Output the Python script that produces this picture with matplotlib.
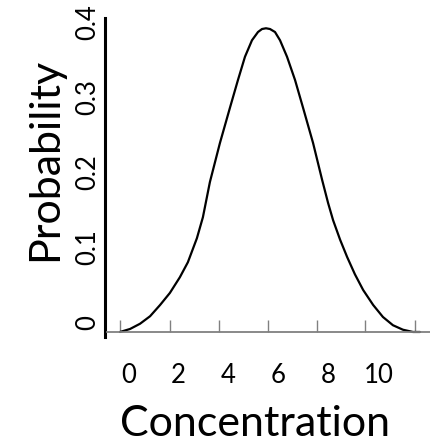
import matplotlib
matplotlib.use("Agg")
import matplotlib.pyplot as plt
from matplotlib.transforms import ScaledTranslation

# ---- data ----
conc = [-0.33, 0.07, 0.47, 0.87, 1.27, 1.66, 2.06, 2.38, 2.74, 2.98, 3.26, 3.66, 4.06,
        4.38, 4.66, 4.94, 5.18, 5.34, 5.50, 5.66, 5.86, 6.06, 6.34, 6.66, 6.98,
        7.38, 7.74, 7.98, 8.18, 8.46, 8.74, 9.05, 9.38, 9.78, 10.17, 10.57, 10.97,
        11.37, 11.65]
prob = [0.000, 0.004, 0.011, 0.021, 0.036, 0.052, 0.073, 0.093, 0.125, 0.153, 0.200, 0.252, 0.299,
        0.336, 0.367, 0.389, 0.400, 0.404, 0.405, 0.404, 0.400, 0.389, 0.367, 0.336, 0.299,
        0.252, 0.203, 0.172, 0.149, 0.123, 0.100, 0.077, 0.056, 0.036, 0.020, 0.009, 0.003,
        0.000, 0.000]

x_ticklabels = ["0", "2", "4", "6", "8", "10"]
x_tickvals = [0, 2, 4, 6, 8, 10]
x_tickmarks = [-0.33, 1.67, 3.63, 5.58, 7.53, 9.45, 11.45]
y_tickvals = [0, 0.1, 0.2, 0.3, 0.4]
y_ticklabels = ["0", "0.1", "0.2", "0.3", "0.4"]

FONT = ["Lato", "DejaVu Sans"]
plt.rcParams["font.family"] = FONT

W, H = 430, 442
fig = plt.figure(figsize=(W / 100, H / 100), dpi=100)
ax = fig.add_axes([105 / W, (H - 337) / H, 325 / W, 319 / H])

ax.plot(conc, prob, color="black", lw=1.6, solid_capstyle="round",
        solid_joinstyle="round", clip_on=False)

ax.set_xlim(-0.93, 12.05)
ax.set_ylim(-0.0067, 0.4187)

for s in ["top", "right"]:
    ax.spines[s].set_visible(False)
ax.spines["left"].set_linewidth(2.2)
ax.spines["left"].set_color("black")
ax.spines["bottom"].set_position(("data", 0))
ax.spines["bottom"].set_bounds(-0.85, 12.05)
ax.spines["bottom"].set_color("#808080")
ax.spines["bottom"].set_linewidth(1.3)

ax.set_xticks(x_tickvals)
ax.set_xticklabels(x_ticklabels)
ax.set_xticks(x_tickmarks, minor=True)
ax.tick_params(axis="x", which="major", length=0, pad=22, labelsize=18.5)
ax.tick_params(axis="x", which="minor", direction="in", length=8.6, width=1.0,
               color="#808080")

ax.set_yticks(y_tickvals, labels=y_ticklabels)
ax.tick_params(axis="y", which="both", length=0, pad=3.6, labelsize=18.5,
               labelrotation=90)
for lab in ax.get_yticklabels():
    lab.set_verticalalignment("center")

ax.set_xlabel("Concentration", fontsize=31)
ax.xaxis.set_label_coords((255 - 105) / 325, (337 - 405) / 319)
ax.set_ylabel("Probability", fontsize=31, color="black")
ax.yaxis.set_label_coords((64 - 105) / 325, (337 - 159) / 319)

off = ScaledTranslation(0, 9.6 / 100, fig.dpi_scale_trans)
for lab in ax.get_yticklabels():
    lab.set_transform(lab.get_transform() + off)

fig.savefig("out.png", dpi=100, facecolor="white")
